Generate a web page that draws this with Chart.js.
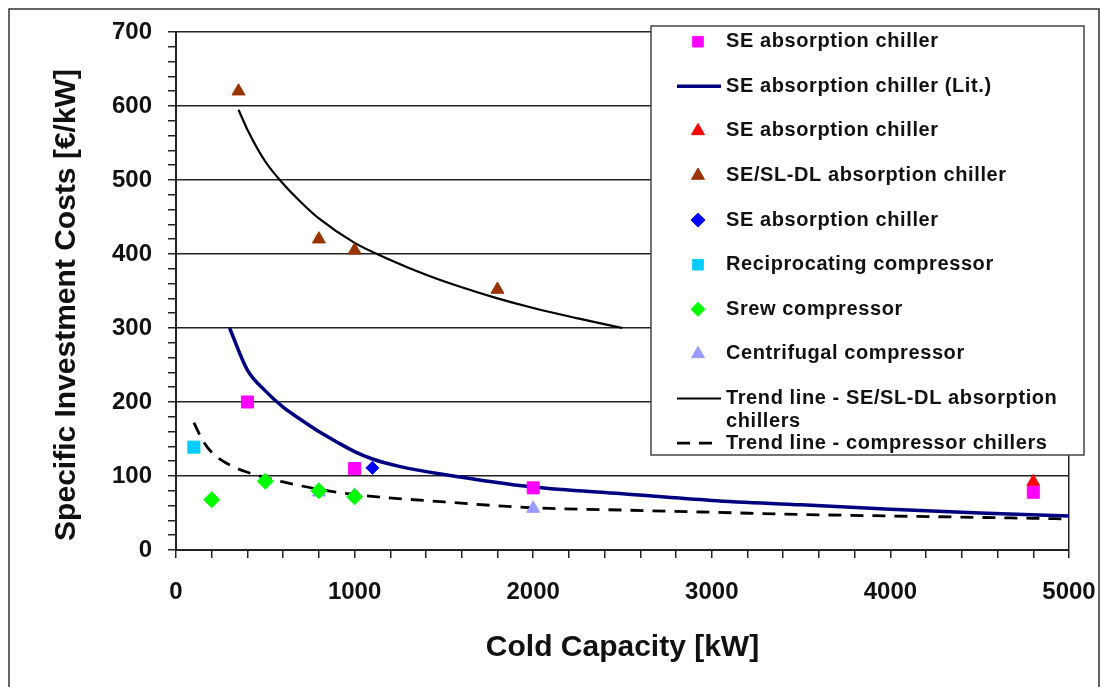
<!DOCTYPE html>
<html>
<head>
<meta charset="utf-8">
<title>Specific investment costs of chillers</title>
<script src="https://cdn.jsdelivr.net/npm/chart.js@4.4.1/dist/chart.umd.min.js"></script>
<style>
  html, body { margin: 0; padding: 0; background: #fff; }
</style>
</head>
<body>
<canvas id="costChart" width="1101" height="687"></canvas>
<script>
// cold capacity [kW] / specific investment costs [EUR/kW]
const seAbsX = [400, 1000, 2000, 4800];
const seAbsY = [200, 110, 84, 78];

const seLitX = [300, 400, 500, 600, 700, 800, 900, 1000, 1100, 1250, 1500, 2000, 2500, 3000, 3500, 4000, 4500, 5000];
const seLitY = [300, 243, 215, 193, 176, 160, 146, 133, 123, 113, 102, 85, 76, 67, 61, 55, 50, 46];

const seRedX = [4800];
const seRedY = [92];

const sslX = [350, 800, 1000, 1800];
const sslY = [620, 420, 405, 352];

const seBlueX = [1100];
const seBlueY = [111];

const recipX = [100];
const recipY = [139];

const screwX = [200, 500, 800, 1000];
const screwY = [68, 93, 80, 72];

const centrifX = [800, 1000, 2000];
const centrifY = [78, 74, 56];

const trendSslX = [350, 400, 500, 600, 700, 800, 1000, 1200, 1400, 1600, 1800, 2000, 2250, 2500];
const trendSslY = [595, 568, 525, 495, 470, 448, 415, 392, 372, 355, 340, 327, 313, 300];

const trendCompX = [100, 150, 200, 300, 400, 500, 600, 800, 1000, 1500, 2000, 2500, 3000, 3500, 4000, 4500, 5000];
const trendCompY = [172, 148, 132, 115, 105, 98, 92, 82, 75, 65, 57, 54, 51, 48, 46, 44, 42];

const seriesNames = [
  'SE absorption chiller',
  'SE absorption chiller (Lit.)',
  'SE absorption chiller',
  'SE/SL-DL absorption chiller',
  'SE absorption chiller',
  'Reciprocating compressor',
  'Srew compressor',
  'Centrifugal compressor',
  'Trend line - SE/SL-DL absorption chillers',
  'Trend line - compressor chillers'
];

const yTitle = 'Specific Investment Costs [€/kW]';
const xTitle = 'Cold Capacity [kW]';

const fontFamily = "'Liberation Sans', Arial, sans-serif";
const ink = '#111';
const lineInk = '#222';

const toPoints = (xs, ys) => xs.map((x, i) => ({ x: x, y: ys[i] }));

function markers(label, xs, ys, color, style, radius) {
  return {
    label: label,
    data: toPoints(xs, ys),
    showLine: false,
    pointStyle: style,
    pointRadius: radius,
    pointHoverRadius: radius,
    pointBackgroundColor: color,
    pointBorderColor: color,
    pointBorderWidth: 1,
    backgroundColor: color,
    borderColor: color
  };
}

function curve(label, xs, ys, color, width, dash) {
  return {
    label: label,
    data: toPoints(xs, ys),
    showLine: true,
    borderColor: color,
    borderWidth: width,
    borderDash: dash,
    pointRadius: 0,
    pointHoverRadius: 0,
    cubicInterpolationMode: 'monotone',
    fill: false
  };
}

// boxed legend sitting over the upper right of the plot
const boxLegend = {
  id: 'boxLegend',
  afterDatasetsDraw(chart) {
    const ctx = chart.ctx;
    const left = 651, top = 26, right = 1084, bottom = 455;
    ctx.save();
    ctx.fillStyle = '#fff';
    ctx.fillRect(left, top, right - left, bottom - top);
    ctx.strokeStyle = '#444';
    ctx.lineWidth = 1.5;
    ctx.strokeRect(left, top, right - left, bottom - top);

    ctx.font = 'bold 20px ' + fontFamily;
    ctx.letterSpacing = '0.6px';
    ctx.textBaseline = 'middle';
    ctx.textAlign = 'left';

    chart.data.datasets.forEach((ds, i) => {
      const y = 41.7 + i * 44.6;
      const cx = 698;
      if (ds.showLine) {
        ctx.save();
        ctx.strokeStyle = ds.borderColor;
        ctx.lineWidth = ds.borderWidth;
        ctx.setLineDash(ds.borderDash || []);
        ctx.beginPath();
        ctx.moveTo(677, y);
        ctx.lineTo(ds.borderDash ? 716 : 721, y);
        ctx.stroke();
        ctx.restore();
      } else {
        ctx.save();
        ctx.fillStyle = ds.pointBackgroundColor;
        ctx.strokeStyle = ds.pointBorderColor;
        ctx.lineWidth = 1;
        Chart.helpers.drawPoint(ctx, {
          pointStyle: ds.pointStyle,
          radius: ds.pointStyle === 'rectRot' ? 7 : 7.5,
          rotation: 0,
          borderWidth: 1
        }, cx, y);
        ctx.restore();
      }

      // wrap long labels onto a second line
      const words = ds.label.split(' ');
      const lines = [];
      let cur = '';
      words.forEach(w => {
        const test = cur ? cur + ' ' + w : w;
        if (ctx.measureText(test).width > 345 && cur) {
          lines.push(cur);
          cur = w;
        } else {
          cur = test;
        }
      });
      lines.push(cur);
      ctx.fillStyle = ink;
      lines.forEach((t, k) => ctx.fillText(t, 726, y + k * 23));
    });
    ctx.restore();
  }
};

// rotated y title and the outer frame around the figure
const figureDecor = {
  id: 'figureDecor',
  afterDraw(chart) {
    const ctx = chart.ctx;
    ctx.save();
    ctx.fillStyle = ink;
    ctx.font = 'bold 30px ' + fontFamily;
    ctx.textAlign = 'center';
    ctx.textBaseline = 'middle';
    ctx.translate(67, 305);
    ctx.rotate(-Math.PI / 2);
    ctx.fillText(yTitle, 0, 0);
    ctx.restore();

    ctx.save();
    ctx.strokeStyle = '#333';
    ctx.lineWidth = 1.5;
    ctx.strokeRect(9, 9, 1090, 700);
    ctx.restore();
  }
};

new Chart(document.getElementById('costChart'), {
  type: 'scatter',
  data: {
    datasets: [
      markers(seriesNames[0], seAbsX, seAbsY, '#ff00ff', 'rect', 8.5),
      curve(seriesNames[1], seLitX, seLitY, '#000080', 3.5, undefined),
      markers(seriesNames[2], seRedX, seRedY, '#ff0000', 'triangle', 7.5),
      markers(seriesNames[3], sslX, sslY, '#993300', 'triangle', 7.5),
      markers(seriesNames[4], seBlueX, seBlueY, '#0000ff', 'rectRot', 6.5),
      markers(seriesNames[5], recipX, recipY, '#00ccff', 'rect', 8.5),
      markers(seriesNames[6], screwX, screwY, '#00ff00', 'rectRot', 8),
      markers(seriesNames[7], centrifX, centrifY, '#9999ff', 'triangle', 7.5),
      curve(seriesNames[8], trendSslX, trendSslY, '#000', 2.2, undefined),
      curve(seriesNames[9], trendCompX, trendCompY, '#000', 2.8, [13, 9])
    ]
  },
  options: {
    responsive: false,
    animation: false,
    layout: { padding: { top: 32, right: 32, left: 0, bottom: 0 } },
    plugins: {
      legend: { display: false },
      tooltip: { enabled: false }
    },
    scales: {
      x: {
        type: 'linear',
        min: 0,
        max: 5000,
        afterFit: (scale) => {
          scale.height = 137;
          scale.paddingLeft = 0;
          scale.paddingRight = 0;
        },
        border: { display: true, color: lineInk, width: 2 },
        grid: {
          color: (c) => (c.tick && c.tick.value === 5000 ? lineInk : 'rgba(0,0,0,0)'),
          lineWidth: 1.5,
          tickColor: lineInk,
          tickLength: 8,
          tickWidth: 1.5
        },
        ticks: {
          stepSize: 200,
          autoSkip: false,
          maxRotation: 0,
          padding: 20,
          color: ink,
          font: { family: fontFamily, size: 24, weight: 'bold' },
          callback: (v) => (v % 1000 === 0 ? String(v) : '')
        },
        title: {
          display: true,
          text: xTitle,
          color: ink,
          font: { family: fontFamily, size: 30, weight: 'bold' },
          padding: { top: 0, bottom: 21 }
        }
      },
      y: {
        min: 0,
        max: 700,
        afterFit: (scale) => {
          scale.width = 176;
          scale.paddingTop = 0;
          scale.paddingBottom = 0;
        },
        border: { display: true, color: lineInk, width: 2 },
        grid: {
          color: (c) => (c.tick && c.tick.value % 100 === 0 ? lineInk : 'rgba(0,0,0,0)'),
          lineWidth: 1.5,
          tickColor: lineInk,
          tickLength: 8,
          tickWidth: 1.5
        },
        ticks: {
          stepSize: 20,
          autoSkip: false,
          padding: 16,
          color: ink,
          font: { family: fontFamily, size: 24, weight: 'bold' },
          callback: (v) => (v % 100 === 0 ? String(v) : '')
        }
      }
    }
  },
  plugins: [boxLegend, figureDecor]
});
</script>
</body>
</html>
